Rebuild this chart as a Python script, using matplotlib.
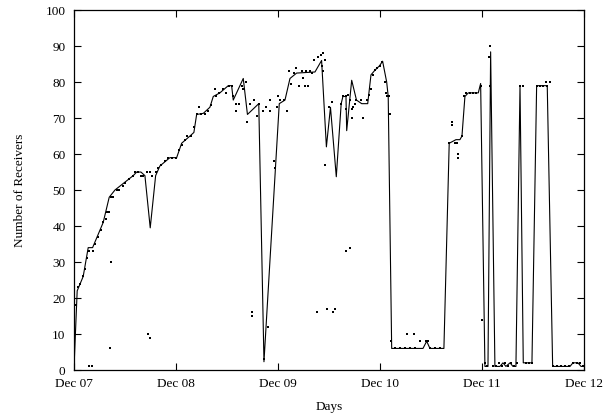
import matplotlib
matplotlib.use('Agg')
import matplotlib.pyplot as plt

plt.rcParams['font.family'] = ['Liberation Serif', 'DejaVu Serif']

# smoothed curve: days since Dec 07, number of receivers
line_days = [0.000, 0.032, 0.091, 0.140, 0.183, 0.287, 0.346, 0.402, 0.581, 0.615,
             0.657, 0.696, 0.748, 0.801, 0.843, 0.941, 1.007, 1.056, 1.137, 1.176,
             1.203, 1.268, 1.333, 1.366, 1.431, 1.513, 1.546, 1.562, 1.660, 1.701,
             1.812, 1.863, 2.013, 2.069, 2.118, 2.183, 2.363, 2.428, 2.475, 2.515,
             2.572, 2.620, 2.637, 2.667, 2.674, 2.723, 2.770, 2.821, 2.880, 2.912,
             2.951, 2.995, 3.026, 3.066, 3.081, 3.115, 3.422, 3.458, 3.490, 3.627,
             3.679, 3.745, 3.784, 3.804, 3.833, 3.866, 3.964, 3.987, 4.029, 4.059,
             4.085, 4.127, 4.176, 4.206, 4.235, 4.275, 4.304, 4.333, 4.373, 4.405,
             4.490, 4.536, 4.640, 4.693, 4.863, 4.892, 4.941, 4.971, 5.000]
line_vals = [0, 22, 26, 34, 34, 41, 48, 50, 54, 55,
             55, 54, 39.5, 54, 56.7, 59, 59, 63, 65, 66,
             71, 71.3, 73, 76, 77, 79, 79, 75, 81, 71,
             74, 2.3, 74, 75, 81, 82.5, 82.8, 86, 62, 73,
             53.7, 74, 76, 76, 66.5, 80.5, 75, 74, 74, 82,
             83.3, 84.5, 85.8, 80, 76, 6, 6, 8, 6, 6,
             63, 64, 64, 65, 76, 77, 77, 79.6, 1, 1,
             88.4, 1, 1, 2, 1, 2, 1, 1, 79, 2,
             2, 79, 79, 1, 1, 2, 2, 1, 1]

# raw samples
dot_days = [0.000, 0.020, 0.042, 0.059, 0.085, 0.108, 0.130, 0.150, 0.150, 0.174,
            0.183, 0.206, 0.238, 0.262, 0.287, 0.314, 0.326, 0.346, 0.353, 0.360,
            0.360, 0.385, 0.419, 0.444, 0.477, 0.500, 0.542, 0.581, 0.598, 0.630,
            0.654, 0.679, 0.719, 0.728, 0.745, 0.745, 0.768, 0.804, 0.826, 0.850,
            0.892, 0.925, 0.958, 1.000, 1.032, 1.056, 1.088, 1.111, 1.144, 1.176,
            1.203, 1.228, 1.242, 1.284, 1.317, 1.340, 1.382, 1.392, 1.425, 1.464,
            1.490, 1.523, 1.546, 1.562, 1.588, 1.588, 1.620, 1.644, 1.660, 1.686,
            1.693, 1.725, 1.742, 1.748, 1.765, 1.791, 1.817, 1.856, 1.863, 1.882,
            1.905, 1.922, 1.922, 1.961, 1.971, 1.993, 2.003, 2.020, 2.059, 2.085,
            2.111, 2.125, 2.157, 2.176, 2.209, 2.232, 2.248, 2.265, 2.275, 2.297,
            2.314, 2.330, 2.353, 2.379, 2.395, 2.419, 2.428, 2.438, 2.444, 2.461,
            2.461, 2.477, 2.503, 2.527, 2.542, 2.559, 2.615, 2.634, 2.667, 2.667,
            2.667, 2.689, 2.703, 2.703, 2.723, 2.723, 2.735, 2.755, 2.768, 2.811,
            2.836, 2.870, 2.895, 2.909, 2.928, 2.951, 2.974, 3.000, 3.020, 3.049,
            3.059, 3.066, 3.091, 3.098, 3.105, 3.147, 3.196, 3.245, 3.268, 3.294,
            3.333, 3.343, 3.392, 3.451, 3.474, 3.490, 3.539, 3.588, 3.679, 3.703,
            3.703, 3.735, 3.758, 3.768, 3.768, 3.801, 3.824, 3.843, 3.882, 3.912,
            3.941, 3.987, 3.997, 4.029, 4.049, 4.072, 4.078, 4.078, 4.108, 4.137,
            4.167, 4.196, 4.225, 4.255, 4.284, 4.314, 4.343, 4.373, 4.402, 4.431,
            4.461, 4.490, 4.539, 4.569, 4.598, 4.627, 4.637, 4.667, 4.696, 4.735,
            4.775, 4.814, 4.853, 4.892, 4.931, 4.961, 4.990]
dot_vals = [16, 18, 23, 24, 26, 28, 31, 33, 1, 1,
            33, 35, 37, 39, 41, 42, 44, 44, 6, 30,
            48, 48, 50, 50, 51, 52, 53, 54, 55, 55,
            54, 54, 55, 10, 9, 55, 54, 55, 56, 57,
            58, 59, 59, 59, 61, 62.5, 64, 65, 65, 67.5,
            71, 73, 71, 71, 72, 73.5, 78, 76, 77, 78,
            77, 79, 79, 76, 74, 72, 74, 79, 78, 80,
            69, 74, 16, 15, 75, 70.5, 74, 72, 3, 73,
            12, 75, 72, 58, 56, 73, 76, 75, 75, 72,
            83, 79.5, 82.5, 84, 79, 83, 81, 79, 83, 79,
            83, 82.5, 86, 16, 87, 87.5, 84.5, 83, 88, 86,
            57, 17, 73, 74.5, 16, 17, 74, 76, 76, 33,
            72.5, 76.5, 75, 34, 72.5, 70, 73, 74, 75, 75,
            70, 75, 76.5, 78, 82, 83.3, 84, 84.5, 85.5, 80,
            77, 76, 76, 71, 8, 6, 6, 6, 10, 6,
            10, 6, 8, 8, 8, 6, 6, 6, 63, 69,
            68, 63, 63, 60, 59, 65, 76, 77, 77, 77,
            77, 79, 14, 2, 1, 87, 90, 79, 1, 1,
            2, 1, 2, 1, 2, 1, 2, 79, 79, 2,
            2, 2, 79, 79, 79, 80, 79, 80, 1, 1,
            1, 1, 1, 2, 2, 2, 1]

tick_days = [0, 1, 2, 3, 4, 5]
tick_labels = ['Dec 07', 'Dec 08', 'Dec 09', 'Dec 10', 'Dec 11', 'Dec 12']

fig = plt.figure(figsize=(6.16, 4.2), dpi=100)
ax = fig.add_axes([0.120, 0.119, 0.828, 0.857])

ax.plot(dot_days, dot_vals, linestyle='none', marker='s', markersize=1.6,
        color='black', markeredgewidth=0)
ax.plot(line_days, line_vals, color='black', linewidth=0.8)

ax.set_xlim(0, 5)
ax.set_ylim(0, 100)
ax.set_xticks(tick_days)
ax.set_xticklabels(tick_labels)
ax.set_yticks(range(0, 101, 10))
ax.tick_params(direction='in', length=5, width=0.8, top=True, right=True,
               labelsize=9.5, pad=6, colors='black')
for s in ax.spines.values():
    s.set_linewidth(0.9)

ax.set_xlabel('Days', fontsize=9.5, labelpad=8)
ax.set_ylabel('Number of Receivers', fontsize=9.5, labelpad=14)

fig.savefig('out.png', dpi=100)
